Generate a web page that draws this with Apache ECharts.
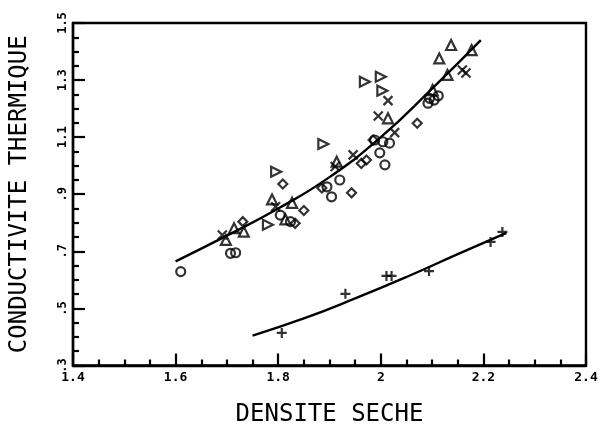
<!DOCTYPE html>
<html>
<head>
<meta charset="utf-8">
<script src="https://cdn.jsdelivr.net/npm/echarts@6/dist/echarts.min.js"></script>
<style>
html,body{margin:0;padding:0;background:#fff;}
#c{width:603px;height:432px;}
</style>
</head>
<body>
<div id="c"></div>
<script>
// Axis tick labels
const xTicks = [1.4, 1.6, 1.8, 2.0, 2.2, 2.4];
const yTicks = [0.3, 0.5, 0.7, 0.9, 1.1, 1.3, 1.5];

// Measured points [densite seche, conductivite thermique]
const circles = [
  [1.610, 0.629], [1.707, 0.693], [1.717, 0.695], [1.804, 0.827], [1.824, 0.804],
  [1.920, 0.950], [1.895, 0.926], [1.904, 0.891], [1.988, 1.090], [2.004, 1.084],
  [2.017, 1.079], [1.998, 1.045], [2.008, 1.003], [2.095, 1.236], [2.104, 1.230],
  [2.092, 1.219], [2.112, 1.245]
];
const trianglesUp = [
  [2.137, 1.423], [2.177, 1.405], [2.114, 1.376], [2.130, 1.318], [2.101, 1.265],
  [2.014, 1.166], [1.914, 1.014], [1.788, 0.882], [1.827, 0.870], [1.714, 0.781],
  [1.733, 0.769], [1.814, 0.812], [1.698, 0.740]
];
const trianglesRight = [
  [1.969, 1.294], [2.000, 1.312], [2.003, 1.263], [1.888, 1.076], [1.796, 0.979],
  [1.780, 0.793]
];
const diamonds = [
  [1.731, 0.804], [1.809, 0.936], [1.850, 0.843], [1.833, 0.798], [1.885, 0.922],
  [1.943, 0.905], [1.962, 1.008], [1.972, 1.020], [1.985, 1.090], [2.071, 1.149]
];
const crosses = [
  [1.691, 0.757], [1.795, 0.856], [1.911, 0.997], [1.946, 1.038], [1.995, 1.174],
  [2.014, 1.228], [2.027, 1.116], [2.159, 1.335], [2.166, 1.325]
];
const plusses = [
  [1.807, 0.414], [1.931, 0.551], [2.011, 0.614], [2.021, 0.614], [2.094, 0.631],
  [2.214, 0.733], [2.237, 0.768]
];

// Fitted curves
const fitUpper = [
  [1.600, 0.665], [1.700, 0.755], [1.800, 0.850], [1.900, 0.960], [2.000, 1.100],
  [2.100, 1.270], [2.195, 1.440]
];
const fitLower = [
  [1.750, 0.405], [1.850, 0.465], [1.950, 0.535], [2.050, 0.610], [2.150, 0.690],
  [2.245, 0.765]
];

const FONT = 'DejaVu Sans Mono';
const markStyle = {color: 'rgba(0,0,0,0)', borderColor: '#000', borderWidth: 2.2};

function scatter(data, symbol, size, rotate) {
  return {
    type: 'scatter', data: data, symbol: symbol, symbolSize: size,
    symbolRotate: rotate || 0, itemStyle: markStyle, z: 3
  };
}
function curve(data) {
  return {
    type: 'line', data: data, smooth: true, showSymbol: false, symbol: 'none',
    lineStyle: {color: '#000', width: 2.4}, z: 2
  };
}

const chart = echarts.init(document.getElementById('c'), null, {renderer: 'canvas'});
chart.setOption({
  animation: false,
  backgroundColor: '#fff',
  grid: {left: 69.5, right: 17, top: 23, bottom: 66.5, show: true, borderColor: '#000', borderWidth: 2.4, backgroundColor: 'transparent'},
  xAxis: {
    type: 'value', min: xTicks[0], max: xTicks[xTicks.length - 1], interval: 0.2,
    name: 'DENSITE SECHE', nameLocation: 'middle', nameGap: 37,
    nameTextStyle: {fontFamily: FONT, fontSize: 24, color: '#000'},
    axisLine: {show: true, onZero: false, lineStyle: {color: '#000', width: 2.4}},
    axisTick: {show: true, inside: true, length: 12, lineStyle: {color: '#000', width: 2.2}},
    minorTick: {show: true, splitNumber: 4, length: 6, lineStyle: {color: '#000', width: 2.2}},
    splitLine: {show: false},
    axisLabel: {
      show: true, margin: 6, fontFamily: FONT, fontWeight: 'bold', fontSize: 13, color: '#000',
      showMinLabel: true, showMaxLabel: true,
      formatter: v => {
        const r = Math.round(v * 10) / 10;
        const idx = xTicks.findIndex(t => Math.abs(t - r) < 1e-6);
        return idx < 0 ? '' : String(xTicks[idx]);
      }
    }
  },
  yAxis: {
    type: 'value', min: yTicks[0], max: yTicks[yTicks.length - 1], interval: 0.2,
    name: 'CONDUCTIVITE THERMIQUE', nameLocation: 'middle', nameGap: 41,
    nameTextStyle: {fontFamily: FONT, fontSize: 24, color: '#000'},
    axisLine: {show: true, onZero: false, lineStyle: {color: '#000', width: 2.4}},
    axisTick: {show: true, inside: true, length: 12, lineStyle: {color: '#000', width: 2.2}},
    minorTick: {show: true, splitNumber: 4, length: 6, lineStyle: {color: '#000', width: 2.2}},
    splitLine: {show: false},
    axisLabel: {
      show: true, margin: 4, rotate: 90, align: 'center', verticalAlign: 'bottom',
      fontFamily: FONT, fontWeight: 'bold', fontSize: 12, color: '#000',
      showMinLabel: true, showMaxLabel: true,
      formatter: v => {
        const r = Math.round(v * 10) / 10;
        const idx = yTicks.findIndex(t => Math.abs(t - r) < 1e-6);
        if (idx < 0) return '';
        const s = String(yTicks[idx]);
        return s.startsWith('0') ? s.slice(1) : s;
      }
    }
  },
  series: [
    curve(fitUpper),
    curve(fitLower),
    scatter(circles, 'circle', 9),
    scatter(trianglesUp, 'triangle', 10),
    scatter(trianglesRight, 'triangle', 10, -90),
    scatter(diamonds, 'diamond', 9),
    scatter(crosses, 'path://M0,0L10,10M10,0L0,10', 9),
    scatter(plusses, 'path://M5,0L5,10M0,5L10,5', 10)
  ]
});
</script>
</body>
</html>
